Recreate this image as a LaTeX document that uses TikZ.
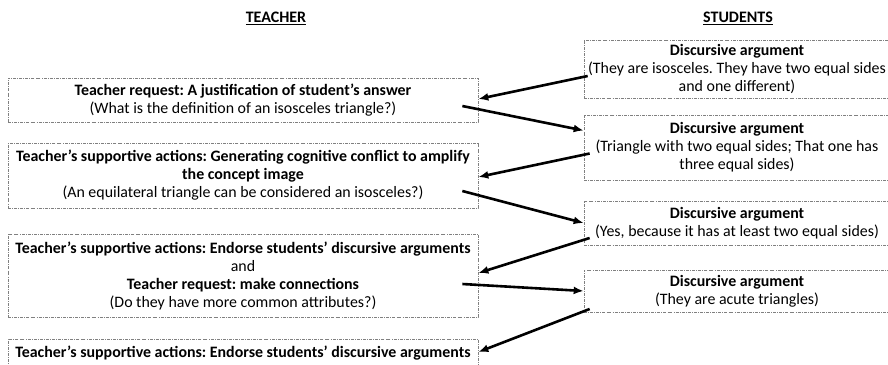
\documentclass[tikz,border=0pt]{standalone}
\usepackage{fontspec}
\setmainfont{Carlito}
\frenchspacing
\usetikzlibrary{positioning,arrows.meta}
\tikzstyle{dialogue} = [x = 1pt, y = -1pt, every node/.style={font=\fontsize{15.9}{18}\selectfont}]
\tikzstyle{moveBox} = [draw=gray, line width=.7pt, dash pattern=on 3pt off 1.2pt on .7pt off 1.2pt, align=center, inner sep=0pt]
\tikzstyle{teacherBox} = [moveBox, minimum width=470pt]
\tikzstyle{studentBox} = [moveBox, minimum width=306pt]
\tikzstyle{turnArrow} = [-{Latex[length=10pt,width=8pt]}, line width=2.6pt]
\tikzstyle{heading} = [font=\fontsize{16}{18}\selectfont\bfseries]

\begin{document}
\begin{tikzpicture}[dialogue]
  \useasboundingbox (0,0) rectangle (888,364);

  % column titles
  \node [heading] (teacherTitle) at (276,18) {\underline{TEACHER}};
  \node [heading] (studentTitle) at (738,18) {\underline{STUDENTS}};

  % teacher moves
  \node [teacherBox, minimum height=44pt] (t1) at (243,100)
    {\textbf{Teacher request: A justification of student's answer}\\
     (What is the definition of an isosceles triangle?)};
  \node [teacherBox, minimum height=65pt] (t2) at (243,175.5)
    {\textbf{Teacher's supportive actions: Generating cognitive conflict to amplify}\\
     \textbf{the concept image}\\
     (An equilateral triangle can be considered an isosceles?)};
  \node [teacherBox, minimum height=83pt] (t3) at (243,275.5)
    {\textbf{Teacher's supportive actions: Endorse students' discursive arguments}\\
     and\\
     \textbf{Teacher request: make connections}\\
     (Do they have more common attributes?)};
  \node [teacherBox, minimum height=28pt] (t4) at (243,353)
    {\textbf{Teacher's supportive actions: Endorse students' discursive arguments}};

  % student moves
  \node [studentBox, minimum height=58pt] (s1) at (737,69)
    {\textbf{Discursive argument}\\
     (They are isosceles. They have two equal sides\\
     and one different)};
  \node [studentBox, minimum height=65pt] (s2) at (737,147.5)
    {\textbf{Discursive argument}\\
     (Triangle with two equal sides; That one has\\
     three equal sides)};
  \node [studentBox, minimum height=44pt] (s3) at (737,223)
    {\textbf{Discursive argument}\\
     (Yes, because it has at least two equal sides)};
  \node [studentBox, minimum height=42pt] (s4) at (737,291)
    {\textbf{Discursive argument}\\
     (They are acute triangles)};

  % turns of the conversation
  \draw [turnArrow] ([xshift=4pt,yshift=-7pt]s1.west) -- ([yshift=1pt]t1.east);
  \draw [turnArrow] ([xshift=-16pt,yshift=-6pt]t1.east) -- ([yshift=17pt]s2.west);
  \draw [turnArrow] ([xshift=6pt,yshift=-6pt]s2.west) -- ([yshift=-1.5pt]t2.east);
  \draw [turnArrow] ([xshift=-16pt,yshift=-15.5pt]t2.east) -- (s3.west);
  \draw [turnArrow] ([xshift=6pt,yshift=-15pt]s3.west) -- ([yshift=2.5pt]t3.east);
  \draw [turnArrow] ([xshift=-16pt,yshift=-8.5pt]t3.east) -- (s4.west);
  \draw [turnArrow] ([xshift=6pt,yshift=-18pt]s4.west) -- ([yshift=1pt]t4.east);
\end{tikzpicture}
\end{document}
